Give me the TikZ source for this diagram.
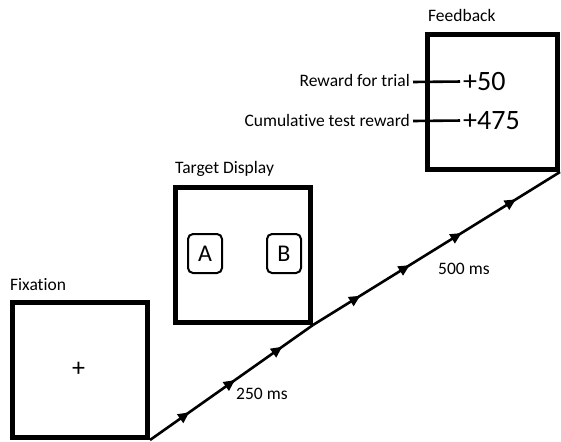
\documentclass[tikz,border=0pt]{standalone}
\usepackage{fontspec}
\setmainfont[Ligatures=NoCommon]{Carlito}
\usetikzlibrary{decorations.markings,arrows.meta}
\newcommand{\tritip}{\fill (6,0) -- (-5,-5.5) -- (-5,5.5) -- cycle;}
\begin{document}
\begin{tikzpicture}[x=1pt,y=-1pt,
  screen/.style={draw,line width=5pt,minimum width=135pt,minimum height=135pt,inner sep=0pt,anchor=center},
  choice/.style={draw,line width=2pt,rounded corners=5pt,minimum width=34pt,minimum height=39pt,inner sep=0pt,font=\fontsize{24}{24}\selectfont},
  lbl/.style={font=\fontsize{17.5}{19}\selectfont,inner sep=0pt},
  rlbl/.style={lbl,text height=13pt,text depth=3pt,anchor=east},
  big/.style={font=\fontsize{28}{29}\selectfont,inner sep=0pt,text height=18pt,text depth=0pt,anchor=west},
  timeline/.style={line width=2.6pt}
]
\useasboundingbox (0,0) rectangle (561,441);
% screens
\node[screen] (fix) at (80,370) {};
\node[screen] (tgt) at (243,255) {};
\node[screen,minimum width=130pt] (fb) at (492.5,102) {};
% titles
\node[lbl,anchor=base west] (tfix) at (10,290) {Fixation};
\node[lbl,anchor=base west] (ttgt) at (175,173) {Target Display};
\node[lbl,anchor=base west] (tfb) at (428,22) {Feedback};
% contents
\node[font=\fontsize{26}{26}\selectfont,inner sep=0pt] (plus) at (78.5,369) {+};
\node[choice] (A) at (205,253.5) {A};
\node[choice] (B) at (284,253.5) {B};
% feedback
\node[big] (v1) at (463,81.5) {+50};
\node[big] (v2) at (463,120.5) {+475};
\node[rlbl] (r1) at (410,82) {Reward for trial};
\node[rlbl] (r2) at (410,121) {Cumulative test reward};
\draw[line width=2.6pt,shorten >=3pt] (r1.east) ++(3,0) -- (v1.west);
\draw[line width=2.6pt,shorten >=3pt] (r2.east) ++(3,0) -- (v2.west);
% timeline
\draw[timeline,postaction={decorate,decoration={markings,
   mark=at position 0.21 with {\tritip},
   mark=at position 0.49 with {\tritip},
   mark=at position 0.78 with {\tritip}}}] (fix.south east) -- (tgt.south east);
\draw[timeline,postaction={decorate,decoration={markings,
   mark=at position 0.17 with {\tritip},
   mark=at position 0.37 with {\tritip},
   mark=at position 0.58 with {\tritip},
   mark=at position 0.80 with {\tritip}}}] (tgt.south east) -- (fb.south east);
\node[lbl,anchor=base west] (d1) at (236,399) {250 ms};
\node[lbl,anchor=base west] (d2) at (438,274) {500 ms};
\end{tikzpicture}
\end{document}
